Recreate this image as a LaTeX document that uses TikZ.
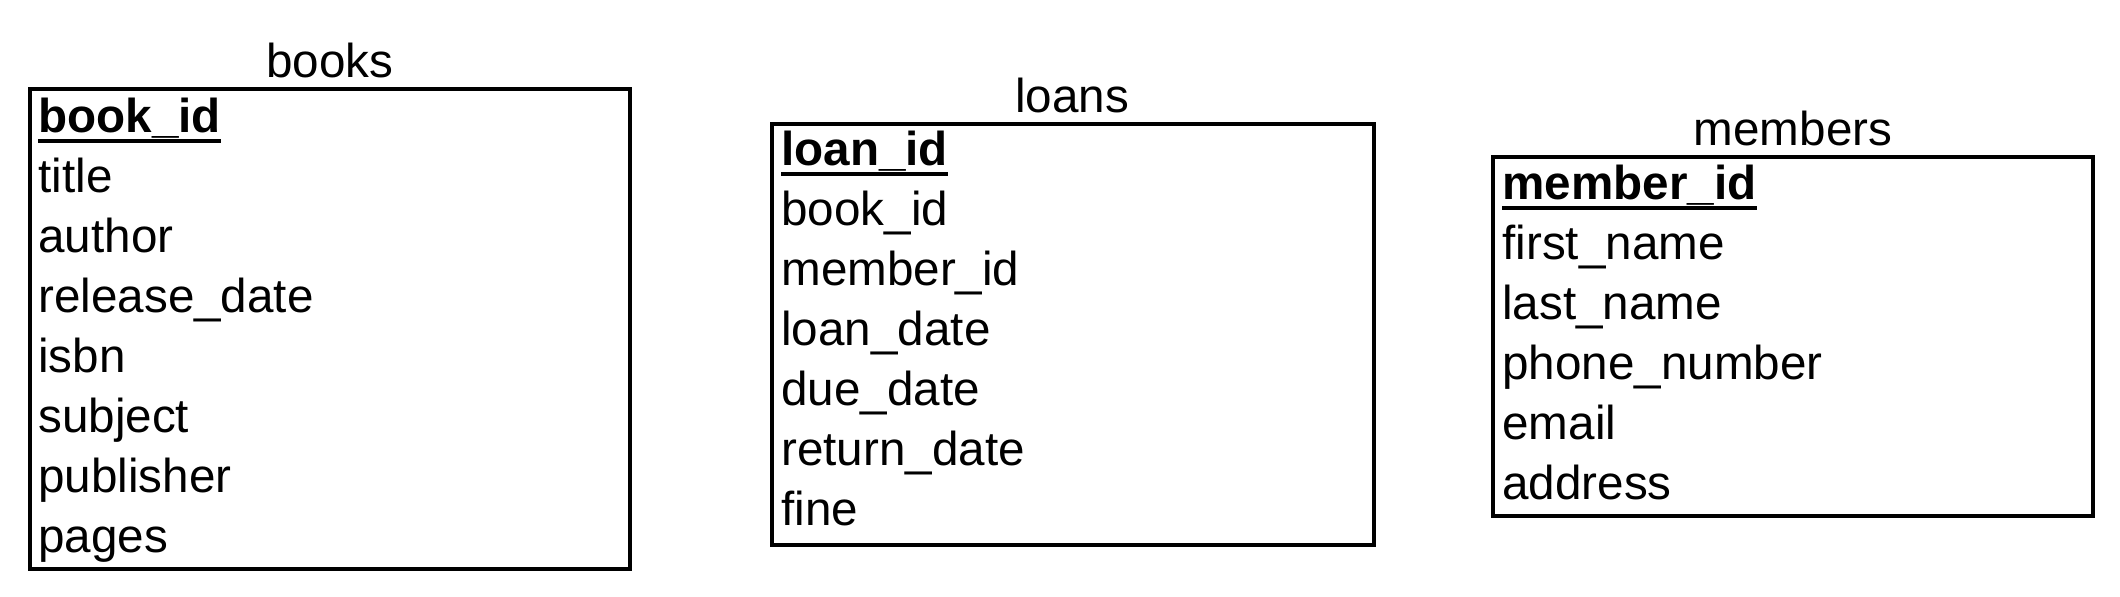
\documentclass[tikz,border=0pt]{standalone}
\usepackage{fontspec}
\setmainfont{Liberation Sans}
\begin{document}
\begin{tikzpicture}[x=0.5pt,y=-0.5pt,
  tablebox/.style={draw,line width=1.8pt,inner sep=0pt},
  field/.style={anchor=base west,inner sep=0pt,font=\fontsize{23.8pt}{28pt}\selectfont},
  pkey/.style={field,font=\fontsize{23.8pt}{28pt}\selectfont\bfseries},
  ttl/.style={anchor=base,inner sep=0pt,font=\fontsize{23.8pt}{28pt}\selectfont},
  uline/.style={line width=2pt}]
\useasboundingbox (0,0) rectangle (2120,596);
% books
\draw[tablebox] (30,89) rectangle (630,569);
\node[ttl] (tbooks) at (330,77) {books};
\node[pkey] (b1) at (38,132) {book\_id};
\node[field] (b2) at (38,192) {title};
\node[field] (b3) at (38,252) {author};
\node[field] (b4) at (38,312) {release\_date};
\node[field] (b5) at (38,372) {isbn};
\node[field] (b6) at (38,432) {subject};
\node[field] (b7) at (38,492) {publisher};
\node[field] (b8) at (38,552) {pages};
\draw[uline] ([yshift=-4.5pt]b1.base west) -- ([yshift=-4.5pt]b1.base east);
% loans
\draw[tablebox] (772,124) rectangle (1374,545);
\node[ttl] (tloans) at (1072,112) {loans};
\node[pkey] (l1) at (781,165) {loan\_id};
\node[field] (l2) at (781,225) {book\_id};
\node[field] (l3) at (781,285) {member\_id};
\node[field] (l4) at (781,345) {loan\_date};
\node[field] (l5) at (781,405) {due\_date};
\node[field] (l6) at (781,465) {return\_date};
\node[field] (l7) at (781,525) {fine};
\draw[uline] ([yshift=-4.5pt]l1.base west) -- ([yshift=-4.5pt]l1.base east);
% members
\draw[tablebox] (1493,157) rectangle (2093,516);
\node[ttl] (tmembers) at (1793,145) {members};
\node[pkey] (m1) at (1502,199) {member\_id};
\node[field] (m2) at (1502,259) {first\_name};
\node[field] (m3) at (1502,319) {last\_name};
\node[field] (m4) at (1502,379) {phone\_number};
\node[field] (m5) at (1502,439) {email};
\node[field] (m6) at (1502,499) {address};
\draw[uline] ([yshift=-4.5pt]m1.base west) -- ([yshift=-4.5pt]m1.base east);
\end{tikzpicture}
\end{document}
